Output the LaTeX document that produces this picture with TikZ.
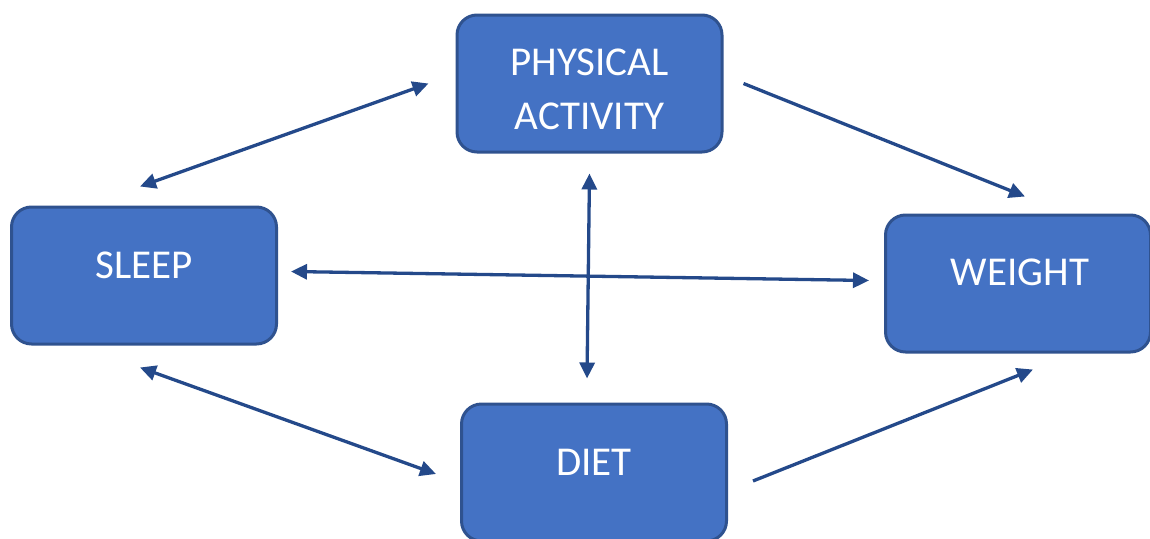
\documentclass[tikz,border=0pt]{standalone}
\usepackage{fontspec}
\setmainfont{Carlito}
\usepackage{tikz}
\usetikzlibrary{arrows.meta, positioning}
\definecolor{boxfill}{HTML}{4472C4}
\definecolor{boxline}{HTML}{2F528F}
\definecolor{linkline}{HTML}{24498A}

\begin{document}
\begin{tikzpicture}[x=1pt, y=-1pt,
    box/.style={draw=boxline, fill=boxfill, line width=3pt, rounded corners=20pt,
        minimum width=265pt, minimum height=137pt, inner sep=0pt},
    lbl/.style={text=white, font=\fontsize{41}{54}\selectfont, align=center},
    link/.style={draw=linkline, line width=3.3pt,
        {Triangle[length=16pt,width=15pt]}-{Triangle[length=16pt,width=15pt]}},
    onelink/.style={draw=linkline, line width=3.3pt, -{Triangle[length=16pt,width=15pt]}},
]
    \useasboundingbox (0,0) rectangle (1150,538);
    \begin{scope}
    \clip (0,0) rectangle (1150,538);
    \node[box] (activity) at (589.5,83.5) {};
    \node[box] (sleep) at (144,275.5) {};
    \node[box] (weight) at (1018,283.5) {};
    \node[box] (diet) at (594,472.5) {};
    \end{scope}
    \node[lbl] at ([yshift=-5.5pt]activity.center) {PHYSICAL\\ACTIVITY};
    \node[lbl] at ([yshift=10pt]sleep.center) {SLEEP};
    \node[lbl] at ([xshift=2pt,yshift=11pt]weight.center) {WEIGHT};
    \node[lbl] at ([yshift=10pt]diet.center) {DIET};
    % connectors
    \draw[link] ([xshift=-4pt,yshift=19pt]sleep.north) -- ([xshift=-27pt]activity.west);
    \draw[onelink] ([xshift=20pt]activity.east) -- ([xshift=7pt,yshift=17pt]weight.north);
    \draw[link] ([xshift=13pt,yshift=4pt]sleep.east) -- ([xshift=-15pt,yshift=3pt]weight.west);
    \draw[link] ([yshift=-20pt]activity.south) -- ([xshift=-7pt,yshift=24pt]diet.north);
    \draw[link] ([xshift=-4pt,yshift=-22pt]sleep.south) -- ([xshift=-24pt,yshift=-1.5pt]diet.west);
    \draw[onelink] ([xshift=25pt,yshift=-8.5pt]diet.east) -- ([xshift=15pt,yshift=-16pt]weight.south);
\end{tikzpicture}
\end{document}
